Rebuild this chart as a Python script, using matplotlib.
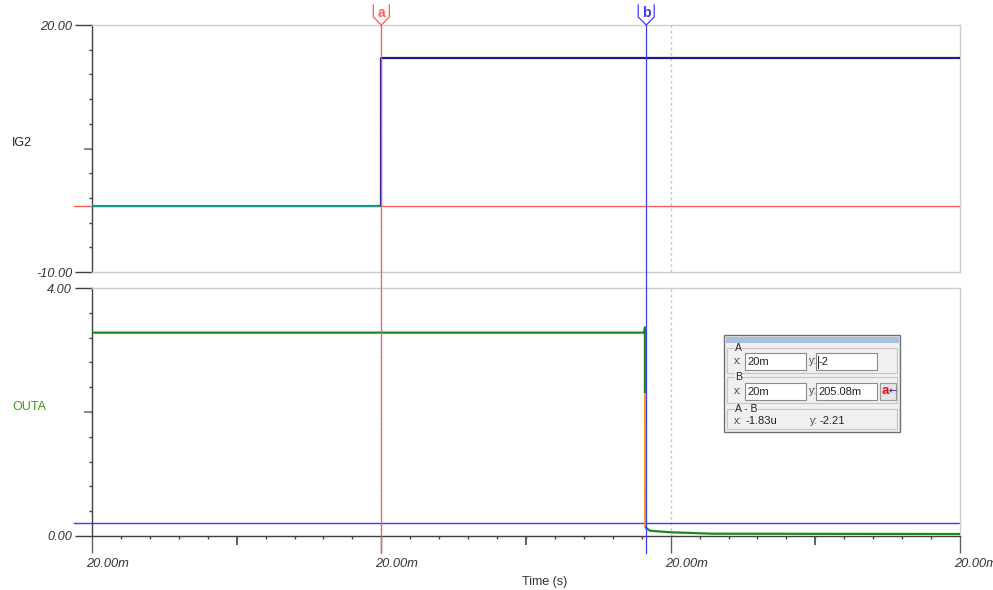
import matplotlib
matplotlib.use('Agg')
import matplotlib.pyplot as plt
import matplotlib.transforms as mtransforms
from matplotlib.patches import Rectangle
from matplotlib.lines import Line2D
import numpy as np

plt.rcParams['font.family'] = ['Liberation Sans', 'DejaVu Sans']

# ---------------- data ----------------
# time axis in microseconds from the window start (every label reads "20.00m")
x_min, x_max = 0.0, 6.0
x_major = [0.0, 2.0, 4.0, 6.0]
x_medium = [1.0, 3.0, 5.0]
x_tick_labels = ['20.00m', '20.00m', '20.00m', '20.00m']
x_label = 'Time (s)'

ig2_label = 'IG2'
ig2_ylim = (-10.0, 20.0)
ig2_yticklabels = ['-10.00', '20.00']
ig2_before_t = [0.0, 2.0]
ig2_before_v = [-2.0, -2.0]
ig2_after_t = [2.0, 2.0, 6.0]
ig2_after_v = [-2.0, 16.0, 16.0]

outa_label = 'OUTA'
outa_ylim = (0.0, 4.0)
outa_yticklabels = ['0.00', '4.00']
outa_high_t = [0.0, 3.818, 3.822, 3.822]
outa_high_v = [3.28, 3.28, 3.366, 2.305]
outa_fall_t = [3.822, 3.823]
outa_fall_v = [2.305, 0.15]
outa_tail_t = [3.823, 3.834, 3.857, 4.0, 4.29, 6.0]
outa_tail_v = [0.15, 0.124, 0.085, 0.06, 0.037, 0.032]

cursor_a_x, cursor_a_y = 2.0, -2.0
cursor_b_x, cursor_b_y = 3.831, 0.20508

dlg_a = ['20m', '-2']
dlg_b = ['20m', '205.08m']
dlg_ab = ['-1.83u', '-2.21']

# ---------------- styling ----------------
W, H = 993, 590
fig = plt.figure(figsize=(W / 100, H / 100), dpi=100)

TEAL = '#17998a'
NAVY = '#1c1c94'
RED = '#ff5a5a'
BLUE = '#3b3bff'
GREEN = '#1b8a1b'
ORANGE = '#f0960f'
AXC = '#404040'
FRAME = '#cccccc'
GRID = '#c8c8c8'

PX = 72 / 100.0  # points per pixel

ax1 = fig.add_axes([92 / W, 1 - 272 / H, 868 / W, 247 / H])
ax2 = fig.add_axes([92 / W, 1 - 536 / H, 868 / W, 248 / H])


def style_axis(ax, ylim, ylabels, bottom_dark):
    ax.set_xlim(x_min, x_max)
    ax.set_ylim(*ylim)
    for s in ['top', 'right']:
        ax.spines[s].set_color(FRAME)
        ax.spines[s].set_linewidth(1)
    ax.spines['left'].set_color(AXC)
    ax.spines['left'].set_linewidth(1)
    ax.spines['bottom'].set_color(AXC if bottom_dark else FRAME)
    ax.spines['bottom'].set_linewidth(1)
    ax.set_yticks([ylim[0], ylim[1]])
    ax.set_yticklabels(ylabels, fontstyle='italic', fontsize=9.2, color='#333333')
    ax.set_yticks(np.linspace(ylim[0], ylim[1], 11)[1:-1], minor=True)
    ax.tick_params(axis='y', which='major', length=17 * PX, width=1, color=AXC, pad=2)
    ax.tick_params(axis='y', which='minor', length=3 * PX, width=1, color=AXC)
    # medium tick in the middle
    mid = 0.5 * (ylim[0] + ylim[1])
    ax.plot([-8 / 868, 0], [mid, mid], transform=ax.get_yaxis_transform(),
            color='#8a8a8a', lw=1.4, clip_on=False, solid_capstyle='butt')
    # dashed grid at inner major x ticks
    for xv in x_major[1:-1]:
        ax.axvline(xv, color=GRID, lw=1, ls=(0, (2, 2)), zorder=1)


style_axis(ax1, ig2_ylim, ig2_yticklabels, False)
style_axis(ax2, outa_ylim, outa_yticklabels, True)

ax1.tick_params(axis='x', which='both', length=0, labelbottom=False)
ax2.set_xticks(x_major)
ax2.set_xticklabels([''] * len(x_major))
ax2.set_xticks(np.arange(x_min, x_max + 1e-9, 0.2), minor=True)
ax2.tick_params(axis='x', which='major', length=17 * PX, width=1, color='#606060')
ax2.tick_params(axis='x', which='minor', length=3 * PX, width=1, color=AXC)
for xv in x_medium:
    ax2.plot([xv, xv], [0, -9 / 248], transform=ax2.get_xaxis_transform(),
             color='#606060', lw=1.4, clip_on=False, solid_capstyle='butt')

# x tick labels
lab_tr = mtransforms.blended_transform_factory(ax2.transData, fig.transFigure) + \
    mtransforms.ScaledTranslation(-6 / 100, 0, fig.dpi_scale_trans)
for xv, s in zip(x_major, x_tick_labels):
    fig.text(xv, 1 - 564 / H, s, transform=lab_tr, ha='left', va='center',
             fontstyle='italic', fontsize=9.3, color='#333333')

fig.text(545 / W, 1 - 582 / H, x_label, ha='center', va='center', fontsize=9, color='#333333')
fig.text(12 / W, 1 - 143 / H, ig2_label, ha='left', va='center', fontsize=9, color='#222222')
fig.text(12 / W, 1 - 407 / H, outa_label, ha='left', va='center', fontsize=9, color='#3a9a1a')

# ---------------- traces ----------------
# cursor horizontal lines (below traces)
ax1.plot([-18 / 868, 1], [cursor_a_y, cursor_a_y], transform=ax1.get_yaxis_transform(),
         color=RED, lw=1, clip_on=False, zorder=2)
ax2.plot([-18 / 868, 1], [cursor_b_y, cursor_b_y], transform=ax2.get_yaxis_transform(),
         color=BLUE, lw=1, clip_on=False, zorder=2)

ax1.plot(ig2_before_t, ig2_before_v, color=TEAL, lw=1.6, zorder=3, solid_capstyle='butt')
ax1.plot(ig2_after_t, ig2_after_v, color=NAVY, lw=1.6, zorder=3, solid_capstyle='butt')

ax2.plot(outa_high_t, outa_high_v, color=GREEN, lw=1.6, zorder=3, solid_capstyle='butt')
ax2.plot(outa_fall_t, outa_fall_v, color=ORANGE, lw=1.3, zorder=3, solid_capstyle='butt')
ax2.plot(outa_tail_t, outa_tail_v, color=GREEN, lw=1.6, zorder=3, solid_capstyle='butt')

# cursor vertical lines spanning both panels
vtr = mtransforms.blended_transform_factory(ax2.transData, fig.transFigure)
for cx, col in [(cursor_a_x, RED), (cursor_b_x, BLUE)]:
    ax2.plot([cx, cx], [1 - 553 / H, 1 - 25 / H], transform=vtr, color=col,
             lw=0.9, clip_on=False, zorder=6)

# cursor markers at top
fig.canvas.draw()
for cx, col, letter in [(cursor_a_x, RED, 'a'), (cursor_b_x, BLUE, 'b')]:
    px = ax2.transData.transform((cx, 0))[0]
    pts = [(px - 8, 5), (px - 8, 17), (px, 25), (px + 8, 17), (px + 8, 5)]
    poly = Line2D([p[0] / W for p in pts], [1 - p[1] / H for p in pts],
                  transform=fig.transFigure, color=col, lw=0.9)
    fig.add_artist(poly)
    fig.text(px / W, 1 - 13 / H, letter, ha='center', va='center', fontsize=10,
             fontweight='bold', color=col)

# ---------------- cursor dialog ----------------
DLG_BG = '#f0f0f0'


def rect_px(x0, y0, x1, y1, **kw):
    r = Rectangle((x0 / W, 1 - y1 / H), (x1 - x0) / W, (y1 - y0) / H,
                  transform=fig.transFigure, **kw)
    fig.add_artist(r)
    return r


def text_px(x, y, s, **kw):
    kw.setdefault('fontsize', 7.5)
    kw.setdefault('va', 'center')
    kw.setdefault('ha', 'left')
    kw.setdefault('color', '#222222')
    return fig.text(x / W, 1 - y / H, s, **kw)


rect_px(724, 335, 900, 432, facecolor=DLG_BG, edgecolor='#707070', lw=1, zorder=10)
rect_px(725.5, 336.5, 898.5, 343, facecolor='#a9c0dc', edgecolor='none', zorder=11)

groups = [(348, 373, 'A'), (377, 403, 'B'), (409, 429, 'A - B')]
for y0, y1, lab in groups:
    rect_px(727, y0, 897, y1, facecolor='none', edgecolor='#c4c4c4', lw=0.8, zorder=11)
    text_px(735, y0, lab, zorder=13,
            bbox=dict(facecolor=DLG_BG, edgecolor='none', pad=0.3))

for (y0, y1), vals in [((353, 370), dlg_a), ((383, 400), dlg_b)]:
    yc = 0.5 * (y0 + y1)
    text_px(734, yc, 'x:', zorder=12, color='#444444')
    text_px(809, yc, 'y:', zorder=12, color='#444444')
    for bx0, bx1, v in [(745, 806, vals[0]), (816, 877, vals[1])]:
        rect_px(bx0, y0, bx1, y1, facecolor='white', edgecolor='#8a8a8a', lw=0.8, zorder=12)
        text_px(bx0 + 2.5, yc + 0.5, v, zorder=13, fontsize=8)

# text cursor bar in A:y
fig.add_artist(Line2D([818 / W, 818 / W], [1 - 356 / H, 1 - 368 / H],
                      transform=fig.transFigure, color='#222222', lw=0.7, zorder=14))

# button
rect_px(880, 383, 896, 400, facecolor='#e6e6e6', edgecolor='#9a9a9a', lw=0.8, zorder=12)
text_px(881.5, 391.5, 'a', zorder=13, fontsize=9.5, fontweight='bold', color='#e01010')
text_px(889, 391, '\u2190', zorder=13, fontsize=7, color='#1a1aa0', family='DejaVu Sans')

text_px(734, 421, 'x:', zorder=12, color='#444444')
text_px(745, 421, dlg_ab[0], zorder=12, fontsize=8)
text_px(810, 421, 'y:', zorder=12, color='#444444')
text_px(819, 421, dlg_ab[1], zorder=12, fontsize=8)

fig.savefig('out.png', dpi=100)
